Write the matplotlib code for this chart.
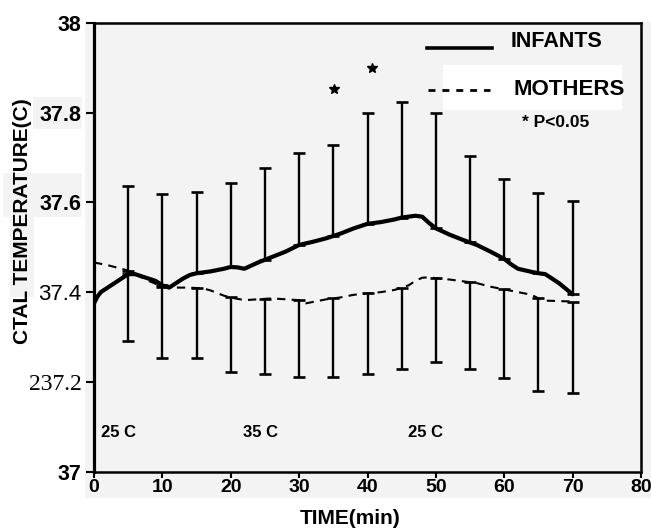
import matplotlib
matplotlib.use('Agg')
import matplotlib.pyplot as plt
from matplotlib.patches import Rectangle
import numpy as np

# rectal temperature traces
time_infants = [0, 0.5, 1, 2, 3, 4, 5, 6, 7, 8, 9, 10, 11, 12, 13, 14, 15, 17, 19, 20, 21, 22,
                24, 26, 28, 30, 32, 34, 36, 38, 40, 42, 44, 45, 46, 47, 48, 49, 50, 52, 54, 56,
                58, 60, 61, 62, 64, 65, 66, 68, 70]
temp_infants = [37.375, 37.39, 37.40, 37.41, 37.42, 37.43, 37.44, 37.44, 37.435, 37.43, 37.425,
                37.415, 37.41, 37.42, 37.43, 37.438, 37.442, 37.446, 37.452, 37.456, 37.455,
                37.452, 37.466, 37.478, 37.49, 37.505, 37.512, 37.52, 37.53, 37.542, 37.552,
                37.556, 37.562, 37.566, 37.568, 37.57, 37.568, 37.554, 37.542, 37.528, 37.516,
                37.505, 37.49, 37.474, 37.462, 37.452, 37.445, 37.442, 37.44, 37.42, 37.395]

time_mothers = [0, 2, 4, 5, 6, 8, 10, 12, 14, 16, 17, 18, 19, 20, 22, 24, 26, 28, 30, 31, 32,
                34, 36, 38, 40, 42, 44, 46, 47, 48, 49, 50, 52, 54, 56, 58, 60, 62, 64, 65, 66,
                68, 70]
temp_mothers = [37.466, 37.46, 37.452, 37.448, 37.44, 37.425, 37.412, 37.41, 37.41, 37.408,
                37.404, 37.398, 37.392, 37.388, 37.382, 37.384, 37.386, 37.384, 37.382, 37.375,
                37.378, 37.384, 37.388, 37.394, 37.397, 37.400, 37.405, 37.415, 37.425, 37.432,
                37.433, 37.431, 37.428, 37.424, 37.42, 37.412, 37.406, 37.4, 37.394, 37.386,
                37.381, 37.38, 37.379]

# error bars: upper whisker for infants, lower whisker for mothers
bar_time = [5, 10, 15, 20, 25, 30, 35, 40, 45, 50, 55, 60, 65, 70]
bar_upper = [37.636, 37.618, 37.624, 37.642, 37.676, 37.71, 37.728, 37.80, 37.823, 37.80,
             37.704, 37.652, 37.621, 37.604]
bar_lower = [37.29, 37.253, 37.253, 37.223, 37.217, 37.21, 37.21, 37.217, 37.228, 37.245,
             37.228, 37.209, 37.18, 37.175]

star_time = [35.1, 40.7]
star_temp = [37.852, 37.898]

room_labels = ['25 C', '35 C', '25 C']
room_label_time = [1.0, 21.8, 45.9]
room_label_temp = 37.088

x_ticks = [0, 10, 20, 30, 40, 50, 60, 70, 80]
y_ticks = [37, 37.2, 37.4, 37.6, 37.8, 38]
y_tick_labels = ['37', '237.2', '37.4', '37.6', '37.8', '38']

W, H = 651, 530
SANS = ['Liberation Sans', 'DejaVu Sans']
SERIF = ['Liberation Serif', 'DejaVu Serif']
PANEL = '#f3f3f3'

fig = plt.figure(figsize=(W / 100, H / 100), dpi=100)
fig.patch.set_facecolor('white')


def addPixelBox(x0, y0, x1, y1, color):
    fig.add_artist(Rectangle((x0 / W, 1 - y1 / H), (x1 - x0) / W, (y1 - y0) / H,
                             transform=fig.transFigure, facecolor=color,
                             edgecolor='none', zorder=-1))


# light gray scanned page and the patches behind some labels
addPixelBox(85, 22, 651, 498, PANEL)
addPixelBox(33, 97, 82, 129, PANEL)
addPixelBox(3, 173, 82, 217, PANEL)
addPixelBox(10, 217, 34, 297, PANEL)

ax = fig.add_axes([94 / W, 1 - 471.7 / H, 547 / W, 449 / H])
ax.set_facecolor('none')
ax.set_xlim(0, 80)
ax.set_ylim(37, 38)

ax.plot(time_infants, temp_infants, color='black', linewidth=3.0, zorder=3,
        solid_capstyle='round')
ax.plot(time_mothers, temp_mothers, color='black', linewidth=1.5, zorder=3,
        dashes=(4, 3))

infant_at_bar = np.interp(bar_time, time_infants, temp_infants)
mother_at_bar = np.interp(bar_time, time_mothers, temp_mothers)
up = np.array(bar_upper) - infant_at_bar
down = mother_at_bar - np.array(bar_lower)
ax.errorbar(bar_time, infant_at_bar, yerr=[np.zeros_like(up), up], fmt='none',
            ecolor='black', elinewidth=1.7, capsize=4, capthick=1.9, zorder=2)
ax.errorbar(bar_time, mother_at_bar, yerr=[down, np.zeros_like(down)], fmt='none',
            ecolor='black', elinewidth=1.7, capsize=4, capthick=1.9, zorder=2)

ax.plot(star_time, star_temp, linestyle='none', marker='*', markersize=7,
        color='black', zorder=3)

for label, t in zip(room_labels, room_label_time):
    ax.text(t, room_label_temp, label, fontsize=12, fontweight='bold',
            family=SANS, ha='left', va='center')

# hand drawn legend in the upper right
ax.add_patch(Rectangle((0.638, 0.805), 0.327, 0.101, transform=ax.transAxes,
                       facecolor='white', edgecolor='none', zorder=1))
ax.plot([0.609, 0.727], [0.943, 0.943], transform=ax.transAxes, color='black',
        linewidth=2.6, zorder=3)
ax.plot([0.611, 0.724], [0.851, 0.851], transform=ax.transAxes, color='black',
        linewidth=2.0, dashes=(2.5, 2.5), zorder=3)
ax.text(0.762, 0.958, 'INFANTS', transform=ax.transAxes, fontsize=15.5,
        fontweight='bold', family=SANS, ha='left', va='center')
ax.text(0.766, 0.851, 'MOTHERS', transform=ax.transAxes, fontsize=16,
        fontweight='bold', family=SANS, ha='left', va='center', zorder=4)
ax.text(0.782, 0.777, '* P<0.05', transform=ax.transAxes, fontsize=12.5,
        fontweight='bold', family=SANS, ha='left', va='center')

for side in ['left', 'bottom', 'top', 'right']:
    ax.spines[side].set_linewidth(1.8)
ax.spines['left'].set_linewidth(2.3)

ax.set_xticks(x_ticks)
ax.set_xticklabels([str(v) for v in x_ticks], fontsize=14, fontweight='bold', family=SANS)
ax.tick_params(axis='x', length=4, width=1.5, pad=1)
ax.set_yticks(y_ticks)
ax.set_yticklabels(y_tick_labels)
ax.tick_params(axis='y', length=6, width=1.5, pad=3)
for tick_label, text in zip(ax.get_yticklabels(), y_tick_labels):
    if text == '237.2':
        tick_label.set_family(SERIF)
        tick_label.set_fontsize(17)
    elif text == '37.4':
        tick_label.set_family(SANS)
        tick_label.set_fontsize(16)
    else:
        tick_label.set_family(SANS)
        tick_label.set_fontsize(15.5)
        tick_label.set_fontweight('bold')

fig.text(350 / W, 1 - 519 / H, 'TIME(min)', fontsize=15, fontweight='bold',
         family=SANS, ha='center', va='center')
fig.text(23 / W, 1 - 221 / H, 'CTAL TEMPERATURE(C)', fontsize=15, fontweight='bold',
         family=SANS, rotation=90, ha='center', va='center')

fig.savefig('out.png', dpi=100)
